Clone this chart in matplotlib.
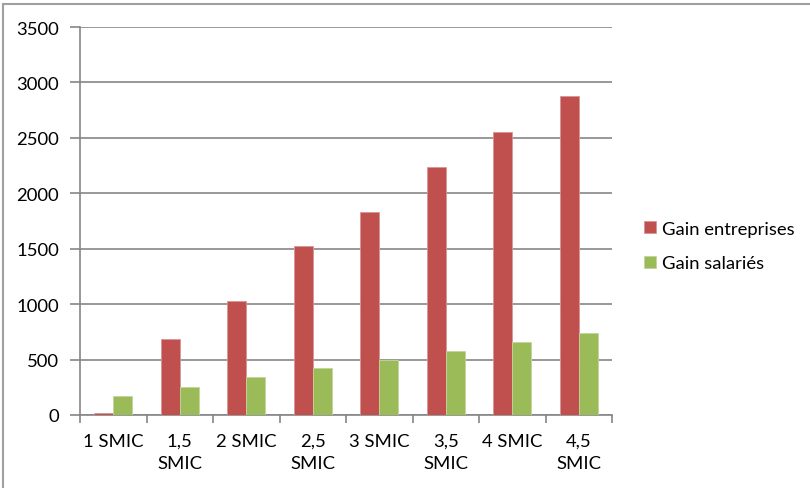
import numpy as np
import matplotlib.pyplot as plt
from matplotlib.patches import Rectangle

# data
categories = ['1 SMIC', '1,5\nSMIC', '2 SMIC', '2,5\nSMIC', '3 SMIC', '3,5\nSMIC', '4 SMIC', '4,5\nSMIC']
gain_entreprises = [20, 688, 1028, 1527, 1830, 2236, 2552, 2874]
gain_salaries = [170, 254, 344, 425, 499, 578, 657, 738]

plt.rcParams['font.family'] = ['Lato', 'DejaVu Sans']
fs = 13.3

fig = plt.figure(figsize=(8.1, 4.89), dpi=100)
ax = fig.add_axes([0.0988, 0.1493, 0.6568, 0.7934])

x = np.arange(len(categories))
w = 0.286
ax.bar(x - w / 2, gain_entreprises, w, color='#C0504D', edgecolor='#D99694', linewidth=0.6,
       label='Gain entreprises', zorder=3)
ax.bar(x + w / 2, gain_salaries, w, color='#9BBB59', edgecolor='#C3D69B', linewidth=0.6,
       label='Gain salariés', zorder=3)

ax.set_xlim(-0.5, len(categories) - 0.5)
ax.set_ylim(0, 3500)
ax.set_yticks(np.arange(0, 3501, 500))
ax.yaxis.grid(True, color='#868686', linewidth=1.2, zorder=0)
ax.tick_params(axis='y', length=7, color='#868686', width=1.2, labelsize=fs, pad=8)

# category labels centred, tick marks between categories
ax.set_xticks(x)
ax.set_xticklabels(categories, fontsize=fs, linespacing=1.45, va='top')
ax.tick_params(axis='x', which='major', length=0, pad=13)
ax.set_xticks(np.arange(-0.5, len(categories), 1), minor=True)
ax.tick_params(axis='x', which='minor', length=6, color='#868686', width=1.2)

for s in ['top', 'right']:
    ax.spines[s].set_visible(False)
for s in ['left', 'bottom']:
    ax.spines[s].set_color('#868686')
    ax.spines[s].set_linewidth(1.2)

ax.legend(loc='center left', bbox_to_anchor=(0.795, 0.495), bbox_transform=fig.transFigure,
          frameon=False, fontsize=fs, handlelength=0.65, handleheight=0.65,
          handletextpad=0.35, labelspacing=1.0, borderaxespad=0, borderpad=0)

# chart border
fig.patches.append(Rectangle((3 / 810, -0.01), 1.2, 1 - 5 / 489 + 0.01, transform=fig.transFigure,
                             fill=False, edgecolor='#A0A0A0', linewidth=1.5))

fig.savefig('out.png', dpi=100)
